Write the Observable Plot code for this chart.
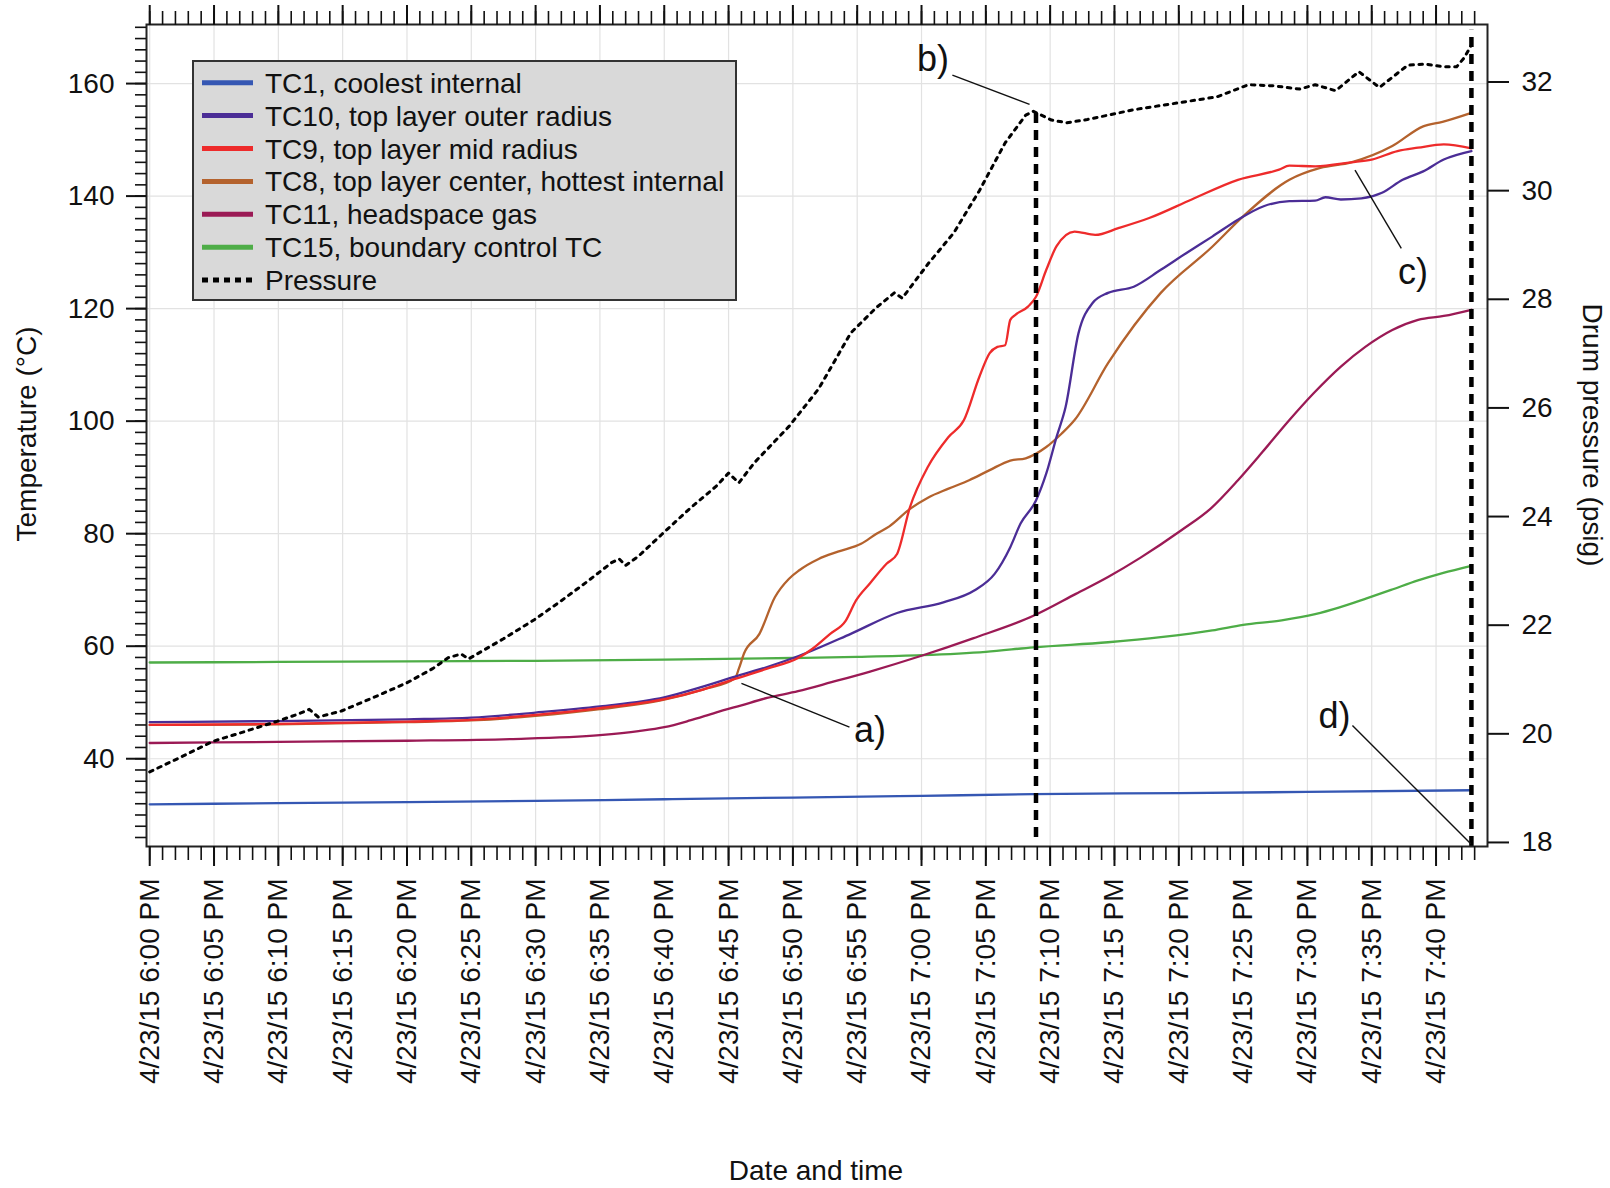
<!DOCTYPE html>
<html><head><meta charset="utf-8">
<script src="https://cdn.jsdelivr.net/npm/d3@7"></script>
<script src="https://cdn.jsdelivr.net/npm/@observablehq/plot@0.6"></script>
<style>
html,body{margin:0;padding:0;background:#fff;}
svg{display:block;}
</style></head><body><div id="chart"></div>
<script>
// ---------- data (minutes after 4/23/15 6:00 PM) ----------
const xTickMinutes = [0,5,10,15,20,25,30,35,40,45,50,55,60,65,70,75,80,85,90,95,100];
const xTickLabels = ["4/23/15 6:00 PM","4/23/15 6:05 PM","4/23/15 6:10 PM","4/23/15 6:15 PM","4/23/15 6:20 PM","4/23/15 6:25 PM","4/23/15 6:30 PM","4/23/15 6:35 PM","4/23/15 6:40 PM","4/23/15 6:45 PM","4/23/15 6:50 PM","4/23/15 6:55 PM","4/23/15 7:00 PM","4/23/15 7:05 PM","4/23/15 7:10 PM","4/23/15 7:15 PM","4/23/15 7:20 PM","4/23/15 7:25 PM","4/23/15 7:30 PM","4/23/15 7:35 PM","4/23/15 7:40 PM"];
const tempTicks = [40,60,80,100,120,140,160];
const pressureTicks = [18,20,22,24,26,28,30,32];

const seriesNames = ["TC1, coolest internal","TC10, top layer outer radius","TC9, top layer mid radius","TC8, top layer center, hottest internal","TC11, headspace gas","TC15, boundary control TC","Pressure"];
const seriesColors = ["#3557b3","#4b2d96","#ee2b2b","#b4622d","#9b1a55","#4ead47","#000000"];

const tc1 = [[0,31.9],[10,32.1],[20,32.3],[30,32.5],[40,32.8],[50,33.1],[60,33.4],[68.7,33.7],[80,33.9],[90,34.1],[102.75,34.4]];
const tc10 = [[0,46.5],[10,46.7],[20,47.0],[25,47.3],[30,48.2],[35,49.3],[40,50.9],[43,52.8],[45.5,54.6],[48,56.3],[50.5,58.3],[54.5,62.2],[58.1,65.9],[61.7,67.8],[64.1,69.9],[65.7,72.9],[66.9,77.6],[67.7,81.8],[68.9,85.9],[69.7,90.7],[70.5,97.2],[71.2,102.5],[72.2,115.6],[73.3,121.0],[74.5,122.8],[76.5,123.9],[78.6,126.9],[80.6,129.9],[82.6,132.8],[84.6,135.8],[86.6,138.2],[88.6,139.1],[90.6,139.2],[91.4,139.8],[92.6,139.4],[94.2,139.6],[95.8,140.6],[97.4,142.9],[99,144.4],[100.6,146.5],[102.75,148.0]];
const tc9 = [[0,46.0],[10,46.2],[20,46.6],[25,46.9],[30,47.8],[35,49.0],[40,50.6],[43,52.3],[45.5,54.2],[48,56.0],[50.4,57.9],[51.5,59.5],[52.9,62.2],[54.1,64.5],[54.9,68.1],[56,71.2],[57.3,74.7],[58.1,76.4],[59.1,84.7],[60.5,91.9],[62.1,97.2],[63.3,100.2],[64.5,107.9],[65.3,112.1],[65.9,113.2],[66.5,113.5],[66.9,118.0],[67.3,118.9],[68.3,120.4],[68.9,122.1],[69.7,126.9],[70.5,131.1],[71.9,133.7],[73.5,133.1],[75.3,134.3],[77.7,136.1],[81,139.4],[84.6,142.9],[87.8,144.7],[88.6,145.4],[90.6,145.3],[93.4,146.0],[95,146.5],[97,148.0],[98.6,148.6],[100.6,149.2],[102.75,148.5]];
const tc8 = [[0,46.0],[10,46.1],[20,46.5],[25,46.8],[30,47.6],[35,48.8],[40,50.5],[43,52.3],[45.5,54.3],[45.8,56.0],[46.2,58.7],[47.4,62.2],[48.6,68.7],[49.7,72.0],[50.5,73.5],[52,75.5],[53.5,76.8],[55.3,78.2],[56.5,80.0],[57.5,81.3],[59.1,84.4],[60.5,86.4],[62.1,88.0],[63.7,89.5],[65.3,91.3],[66.9,93.0],[68.1,93.4],[69.7,95.4],[70.9,97.8],[71.9,100.2],[74.5,110.3],[78.6,122.8],[82.6,131.0],[85,136.4],[88.6,142.9],[91,145.0],[93.4,146.0],[96.6,148.9],[99,152.4],[100.5,153.2],[102.75,154.8]];
const tc11 = [[0,42.8],[10,43.0],[20,43.2],[28,43.5],[35,44.2],[38,44.9],[40,45.6],[42,46.8],[44,48.2],[46,49.5],[48,50.8],[50.4,52.0],[53,53.6],[56,55.5],[60,58.3],[64,61.4],[68.7,65.4],[72,69.3],[74.5,72.3],[77,75.7],[80.2,80.6],[82.5,84.5],[84.6,89.5],[86.5,94.5],[88.6,100.2],[90.5,105.0],[92.6,109.7],[94.5,113.2],[96.6,116.2],[98.6,118.0],[100.6,118.7],[102.75,119.8]];
const tc15 = [[0,57.1],[10,57.2],[20,57.3],[30,57.4],[40,57.6],[50,57.9],[55,58.1],[60,58.4],[65,59.0],[68.7,59.8],[74.5,60.7],[78.6,61.6],[82.6,62.8],[85,63.8],[88,64.6],[90.6,65.7],[92.5,66.9],[94.6,68.5],[96.5,70.0],[98.6,71.7],[100.5,73.0],[102.75,74.3]];
const pressure = [[0,19.3],[2.5,19.58],[4.9,19.86],[7.5,20.05],[9.9,20.23],[11.5,20.36],[12.4,20.45],[13.1,20.31],[14.9,20.42],[17.5,20.68],[20,20.94],[22,21.2],[23.2,21.40],[24.2,21.47],[24.8,21.38],[27.5,21.75],[29.9,22.10],[32,22.45],[34,22.8],[35.9,23.15],[36.5,23.22],[37.0,23.10],[38,23.27],[39.8,23.67],[42,24.15],[44,24.55],[45.0,24.80],[45.8,24.62],[47.0,24.99],[49.7,25.66],[52,26.35],[54.5,27.38],[56.5,27.85],[57.9,28.12],[58.5,28.02],[60.5,28.65],[62.5,29.22],[64.5,30.0],[66.5,30.88],[68.1,31.39],[68.7,31.46],[70.1,31.30],[71.3,31.25],[72.9,31.31],[76.5,31.49],[80.6,31.64],[83.0,31.73],[85.4,31.95],[87.4,31.93],[89.4,31.87],[90.6,31.95],[92.2,31.84],[94.0,32.19],[95.6,31.9],[97.8,32.31],[99.2,32.33],[100.6,32.28],[101.6,32.28],[102.2,32.45],[102.75,32.68]];

// event markers (vertical dashed lines): time, lower and upper temperature-axis extent
const markerTime = [68.9, 102.75];
const markerLow = [26.0, 24.4];
const markerHigh = [155.3, 169.5];

// annotations
const annLabels = ["a)","b)","c)","d)"];
const annTextTime = [56.0, 60.9, 98.2, 92.1];
const annTextTemp = [45.0, 164.2, 126.5, 47.5];
const annFromTime = [54.4, 62.4, 97.3, 93.5];
const annFromTemp = [45.6, 161.5, 130.7, 45.9];
const annToTime = [46.0, 68.4, 93.7, 102.7];
const annToTemp = [53.4, 156.3, 144.6, 24.9];

// ---------- scales ----------
const p2t = p => 25.12 + (p - 18) * 9.654;   // right (psig) axis expressed on left (°C) axis
const t2p = t => 18 + (t - 25.12) / 9.654;
const W = 1610, H = 1188;
const mL = 146, mR = 123, mT = 24, mB = 342;
const minorX = d3.range(0, 104, 1);
const minorY = d3.range(26, 171, 2);
const fmtX = d => xTickLabels[xTickMinutes.indexOf(d)];
const tempSeries = [tc1, tc10, tc9, tc8, tc11, tc15];
const drawOrder = [5, 0, 4, 3, 1, 2];
const idx = a => a.map((_, i) => i);
const FONT = "Liberation Sans, Arial, Helvetica, sans-serif";

const plot = Plot.plot({
  width: W, height: H,
  marginLeft: mL, marginRight: mR, marginTop: mT, marginBottom: mB,
  style: {fontFamily: FONT, fontSize: "28px", color: "#111", background: "#fff"},
  x: {type: "linear", domain: [-0.25, 104]},
  y: {type: "linear", domain: [24.4, 170.5]},
  marks: [
    Plot.gridX(xTickMinutes, {stroke: "#e2e2e2", strokeOpacity: 1, strokeWidth: 1.2}),
    Plot.gridY(tempTicks, {stroke: "#e2e2e2", strokeOpacity: 1, strokeWidth: 1.2}),
    ...drawOrder.map(k => Plot.line(tempSeries[k], {x: d => d[0], y: d => d[1], stroke: seriesColors[k], strokeWidth: 2.3, curve: "monotone-x"})),
    Plot.line(pressure, {x: d => d[0], y: d => p2t(d[1]), stroke: "#000", strokeWidth: 3, strokeDasharray: "3.5,5.5"}),
    Plot.ruleX(idx(markerTime), {x: i => markerTime[i], y1: i => markerLow[i], y2: i => markerHigh[i], stroke: "#000", strokeWidth: 4.5, strokeDasharray: "10,7"}),
    Plot.link(idx(annLabels), {x1: i => annFromTime[i], y1: i => annFromTemp[i], x2: i => annToTime[i], y2: i => annToTemp[i], stroke: "#111", strokeWidth: 1.4}),
    Plot.text(idx(annLabels), {x: i => annTextTime[i], y: i => annTextTemp[i], text: i => annLabels[i], fontSize: 36, fill: "#111"}),
    Plot.frame({stroke: "#222", strokeWidth: 2}),
    Plot.axisX(xTickMinutes, {anchor: "bottom", label: null, tickSize: 20, tickPadding: 12, tickRotate: -90, tickFormat: fmtX, strokeWidth: 2, fontSize: 28}),
    Plot.axisX(minorX, {anchor: "bottom", label: null, tickSize: 14, tickFormat: () => "", strokeWidth: 1.6}),
    Plot.axisX(xTickMinutes, {anchor: "top", label: null, tickSize: 20, tickFormat: () => "", strokeWidth: 2}),
    Plot.axisX(minorX, {anchor: "top", label: null, tickSize: 14, tickFormat: () => "", strokeWidth: 1.6}),
    Plot.axisY(tempTicks, {anchor: "left", label: null, tickSize: 20, tickPadding: 12, strokeWidth: 2, fontSize: 28}),
    Plot.axisY(minorY, {anchor: "left", label: null, tickSize: 11, tickFormat: () => "", strokeWidth: 1.6}),
    Plot.axisY(pressureTicks.map(p2t), {anchor: "right", label: null, tickSize: 21, tickPadding: 13, tickFormat: d => String(Math.round(t2p(d))), strokeWidth: 2, fontSize: 28})
  ]
});

const svg = d3.select(plot);
// axis titles
svg.append("text").attr("transform", "translate(36,434) rotate(-90)").attr("text-anchor", "middle")
  .attr("font-family", FONT).attr("font-size", 28).attr("fill", "#111").text("Temperature (°C)");
svg.append("text").attr("transform", "translate(1583,435) rotate(90)").attr("text-anchor", "middle")
  .attr("font-family", FONT).attr("font-size", 28).attr("fill", "#111").text("Drum pressure (psig)");
svg.append("text").attr("x", 816).attr("y", 1180).attr("text-anchor", "middle")
  .attr("font-family", FONT).attr("font-size", 28).attr("fill", "#111").text("Date and time");

// legend
const lg = svg.append("g");
lg.append("rect").attr("x", 193).attr("y", 61).attr("width", 543).attr("height", 239)
  .attr("fill", "#d9d9d9").attr("stroke", "#333").attr("stroke-width", 2);
seriesNames.forEach((name, i) => {
  const y = 82.7 + 32.9 * i;
  lg.append("line").attr("x1", 202).attr("x2", 253).attr("y1", y).attr("y2", y)
    .attr("stroke", seriesColors[i]).attr("stroke-width", 5)
    .attr("stroke-dasharray", i === 6 ? "6,5" : null);
  lg.append("text").attr("x", 265).attr("y", y + 10).attr("text-anchor", "start")
    .attr("font-family", FONT).attr("font-size", 28).attr("fill", "#111").text(name);
});

document.getElementById("chart").appendChild(plot);
</script></body></html>
